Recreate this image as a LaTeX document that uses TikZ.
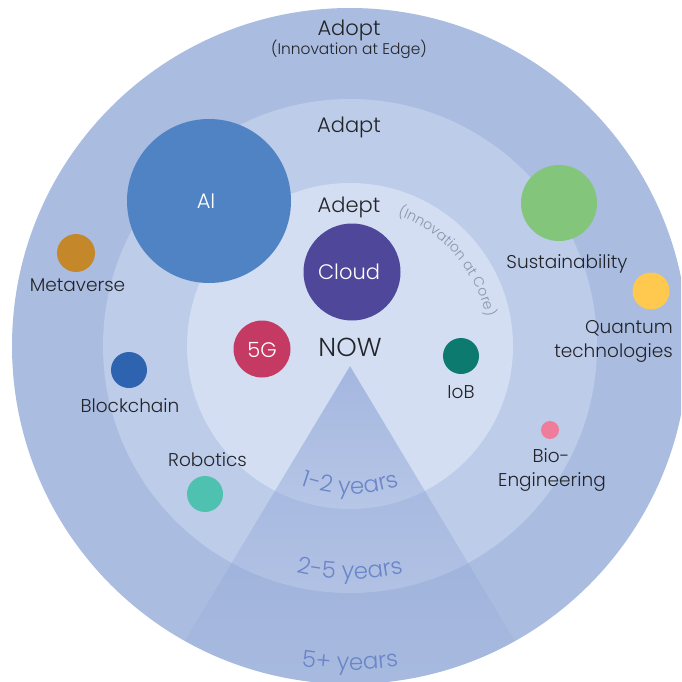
\documentclass[tikz,border=0pt]{standalone}
\usepackage{fontspec}
\setmainfont{Poppins Light}
\usetikzlibrary{decorations.text,fadings}
\definecolor{ringA}{HTML}{AABCE0}
\definecolor{ringB}{HTML}{BDCCE9}
\definecolor{ringC}{HTML}{D3DEF2}
\definecolor{wedgecol}{HTML}{8CA2D6}
\definecolor{yearcol}{HTML}{6A86C8}
\definecolor{coregray}{HTML}{8C95AA}
\definecolor{txt}{HTML}{222428}
\definecolor{cAI}{HTML}{4F83C3}
\definecolor{cCloud}{HTML}{4F479A}
\definecolor{c5G}{HTML}{C43A63}
\definecolor{cIoB}{HTML}{0C7A6F}
\definecolor{cSus}{HTML}{82C57B}
\definecolor{cQua}{HTML}{FFC94F}
\definecolor{cMeta}{HTML}{C4882A}
\definecolor{cBlock}{HTML}{2D63AF}
\definecolor{cRobo}{HTML}{4FC1B0}
\definecolor{cBio}{HTML}{F07C9C}
\tikzfading[name=wedgefade, top color=transparent!35, bottom color=transparent!100]
\tikzset{
  bub/.style={circle, inner sep=0pt, draw=none},
  lab/.style={anchor=base, inner sep=0pt, text=txt, font=\fontsize{18.5}{20}\selectfont},
  ring/.style={anchor=base, inner sep=0pt, text=txt, font=\fontsize{21}{24}\selectfont},
  inlab/.style={anchor=base, inner sep=0pt, text=white, font=\fontsize{21}{24}\selectfont},
}
\begin{document}
\begin{tikzpicture}[x=1pt,y=-1pt]
\useasboundingbox (0,0) rectangle (681,682);
\coordinate (C) at (350,346);
\begin{scope}
\clip (0,0) rectangle (681,682);
\fill[ringA] (C) circle (338);
\fill[ringB] (C) circle (247);
\fill[ringC] (C) circle (163);
\clip (C) circle (338);
\coordinate (apex) at (350,366);
\fill[wedgecol, path fading=wedgefade] (apex) -- ++(121:420) -- ++(0:432) -- cycle;
\end{scope}

% ring titles
\node[ring] (adopt) at (349,36) {Adopt};
\node[anchor=base, inner sep=0pt, text=txt, font=\fontsize{15.4}{16}\selectfont] (edge) at (349,55) {(Innovation at Edge)};
\node[ring] (adapt) at (349,132) {Adapt};
\node[ring] (adept) at (349,212) {Adept};
\path[decorate, decoration={text along path, text color=coregray, text align=left,
  text={|\fontsize{14}{14}\selectfont|(Innovation at Core)}}]
  (C) ++(-70:139) arc (-70:0:139);

% bubbles
\node[bub, fill=cAI, minimum size=164pt] (ai) at (209,201) {};
\node[inlab] (ait) at (206,208.5) {AI};
\node[bub, fill=cCloud, minimum size=97pt] (cloud) at (352,272) {};
\node[inlab] (cloudt) at (349,279) {Cloud};
\node[bub, fill=c5G, minimum size=57pt] (g5) at (262,349) {};
\node[inlab] (g5t) at (262,357) {5G};
\node[anchor=base, inner sep=0pt, text=txt, font=\fontsize{26}{30}\selectfont] (now) at (350,356.5) {NOW};
\node[bub, fill=cIoB, minimum size=36pt] (iob) at (461,356) {};
\node[lab] (iobt) at (461,398) {IoB};
\node[bub, fill=cSus, minimum size=76pt] (sus) at (559,203) {};
\node[lab] (sust) at (567,268) {Sustainability};
\node[bub, fill=cQua, minimum size=37pt] (qua) at (651,291) {};
\node[lab, anchor=base east] (quat) at (673,333) {Quantum};
\node[lab, anchor=base east] (quat2) at (673,357) {technologies};
\node[bub, fill=cMeta, minimum size=38pt] (meta) at (76,253) {};
\node[lab] (metat) at (77.5,291) {Metaverse};
\node[bub, fill=cBlock, minimum size=36pt] (block) at (129,370) {};
\node[lab] (blockt) at (130,412) {Blockchain};
\node[bub, fill=cRobo, minimum size=36pt] (robo) at (205,494) {};
\node[lab] (robot) at (207.5,466) {Robotics};
\node[bub, fill=cBio, minimum size=18pt] (bio) at (550,430) {};
\node[lab] (biot) at (551,462) {Bio-};
\node[lab] (biot2) at (552,486) {Engineering};

% years
\path[decorate, decoration={text along path, text color=yearcol, text align=center,
  text={|\fontsize{23}{23}\selectfont|1-2 years}}]
  (C) ++(125:148) arc (125:55:148);
\path[decorate, decoration={text along path, text color=yearcol, text align=center,
  text={|\fontsize{23}{23}\selectfont|2-5 years}}]
  (C) ++(115:233) arc (115:65:233);
\path[decorate, decoration={text along path, text color=yearcol, text align=center,
  text={|\fontsize{23}{23}\selectfont|5+ years}}]
  (C) ++(105:324) arc (105:75:324);
\end{tikzpicture}
\end{document}
